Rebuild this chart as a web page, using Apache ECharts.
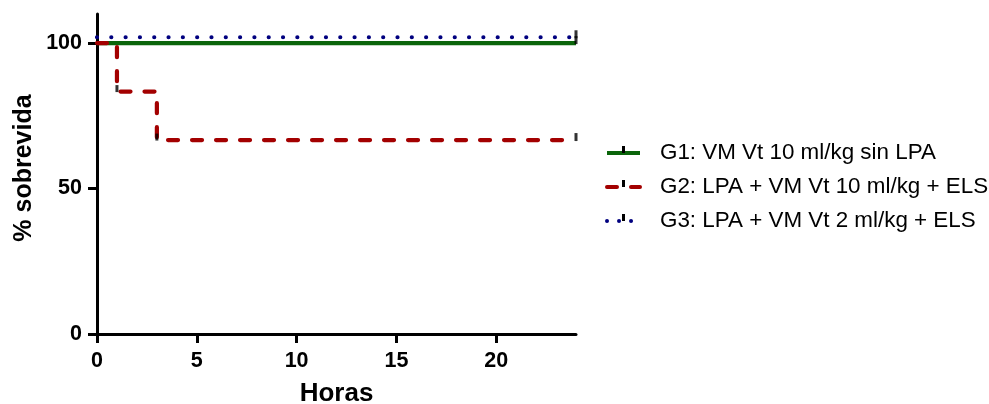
<!DOCTYPE html>
<html><head><meta charset="utf-8">
<script src="https://cdn.jsdelivr.net/npm/echarts@6/dist/echarts.min.js"></script>
<style>html,body{margin:0;padding:0;background:#fff}#c{width:989px;height:404px}</style>
</head><body><div id="c"></div>
<script>
// ---- data ----
const seriesNames = ['G1: VM Vt 10 ml/kg sin LPA', 'G2: LPA + VM Vt 10 ml/kg + ELS', 'G3: LPA + VM Vt 2 ml/kg + ELS'];
const g1Hours = [0, 24];
const g1Survival = [100, 100];
const g2Hours = [0, 1, 3, 24];
const g2Survival = [100, 83.33, 66.67, 66.67];
const g3Hours = [0, 24];
const g3Survival = [102, 102];
const g1CensorHours = [24];
const g1CensorSurvival = [100];
const g2CensorHours = [1, 3, 24];
const g2CensorSurvival = [83.33, 66.67, 66.67];
const g3CensorHours = [24];
const g3CensorSurvival = [102];
const xTicks = [0, 5, 10, 15, 20];
const yTicks = [0, 50, 100];
const xMax = 24, yMax = 110;
const xTickMax = 20, yTickMax = 100;
const xTitle = 'Horas';
const yTitle = '% sobrevida';

// ---- layout / styling ----
const W = 989, H = 404;
const gL = 97, gR = 413, gT = 14, gB = 70;
const plotW = W - gL - gR, plotH = H - gT - gB;
const colors = ['#0b650b', '#a30000', '#00007f'];
const dashes = ['solid', [10, 14], [0.01, 14.3]];
const caps = ['butt', 'round', 'round'];
const font = 'Liberation Sans, Arial, sans-serif';

const zip = (a, b) => a.map((v, i) => [v, b[i]]);
const lineData = [zip(g1Hours, g1Survival), zip(g2Hours, g2Survival), zip(g3Hours, g3Survival)];
const censorData = [zip(g1CensorHours, g1CensorSurvival), zip(g2CensorHours, g2CensorSurvival), zip(g3CensorHours, g3CensorSurvival)];

const series = [];
lineData.forEach((d, i) => {
  series.push({
    name: seriesNames[i], type: 'line', step: 'end', data: d,
    showSymbol: false, symbol: 'none', silent: true, z: 3 + (i === 2 ? 1 : 0),
    lineStyle: { color: colors[i], width: 4.2, type: dashes[i], cap: caps[i] }
  });
});
censorData.forEach((d, i) => {
  series.push({
    type: 'scatter', data: d, symbol: 'rect',
    symbolSize: (v) => (v[0] === 24 ? [3, 8] : [3, 7]),
    symbolOffset: [0, -3], silent: true, z: 6,
    itemStyle: { color: '#000' }
  });
});

// legend drawn as graphic
const legendX = 607, legendY0 = 153, legendStep = 34;
const graphic = [];
seriesNames.forEach((n, i) => {
  const y = legendY0 + i * legendStep;
  graphic.push({
    type: 'line', shape: { x1: legendX, y1: y, x2: legendX + 33, y2: y },
    style: { stroke: colors[i], lineWidth: 4, lineDash: i === 0 ? null : (i === 1 ? [10, 14] : [0.01, 12]), lineCap: caps[i] }
  });
  graphic.push({ type: 'rect', shape: { x: legendX + 15, y: y - 7, width: 3, height: 7 }, style: { fill: '#000' } });
  graphic.push({
    type: 'text', x: legendX + 53, y: y,
    style: { text: n, font: '22.4px ' + font, fill: '#000', textVerticalAlign: 'middle', verticalAlign: 'middle' }
  });
});

// second grid only for ticks (spans 0..20 and 0..100 at the same scale)
const tickGridW = plotW * xTickMax / xMax;
const tickGridH = plotH * yTickMax / yMax;
const tickStyle = { show: true, inside: false, length: 9, lineStyle: { color: '#000', width: 3 } };

const chart = echarts.init(document.getElementById('c'));
chart.setOption({
  animation: false,
  grid: [
    { left: gL, right: gR, top: gT, bottom: gB, containLabel: false, outerBoundsMode: 'none' },
    { left: gL, width: tickGridW, bottom: gB, height: tickGridH, containLabel: false, outerBoundsMode: 'none' }
  ],
  xAxis: [{
    type: 'value', gridIndex: 0, min: 0, max: xMax, interval: 5,
    name: xTitle, nameLocation: 'middle', nameGap: 47,
    nameTextStyle: { fontFamily: font, fontWeight: 'bold', fontSize: 26, color: '#000' },
    axisLine: { show: true, onZero: false, lineStyle: { color: '#000', width: 3 } },
    axisTick: { show: false },
    axisLabel: { fontFamily: font, fontWeight: 'bold', fontSize: 21.5, color: '#000', margin: 16, customValues: xTicks },
    splitLine: { show: false }
  }, {
    type: 'value', gridIndex: 1, min: 0, max: xTickMax, interval: 5,
    axisLine: { show: false }, axisTick: tickStyle, axisLabel: { show: false }, splitLine: { show: false }
  }],
  yAxis: [{
    type: 'value', gridIndex: 0, min: 0, max: yMax, interval: 50,
    name: yTitle, nameLocation: 'middle', nameGap: 60,
    nameTextStyle: { fontFamily: font, fontWeight: 'bold', fontSize: 25, color: '#000', padding: [0, 0, 0, 12] },
    axisLine: { show: true, onZero: false, lineStyle: { color: '#000', width: 3 } },
    axisTick: { show: false },
    axisLabel: { fontFamily: font, fontWeight: 'bold', fontSize: 21.5, color: '#000', margin: 15, customValues: yTicks },
    splitLine: { show: false }
  }, {
    type: 'value', gridIndex: 1, min: 0, max: yTickMax, interval: 50,
    axisLine: { show: false }, axisTick: tickStyle, axisLabel: { show: false }, splitLine: { show: false }
  }],
  series: series,
  graphic: graphic
});
</script>
</body></html>
